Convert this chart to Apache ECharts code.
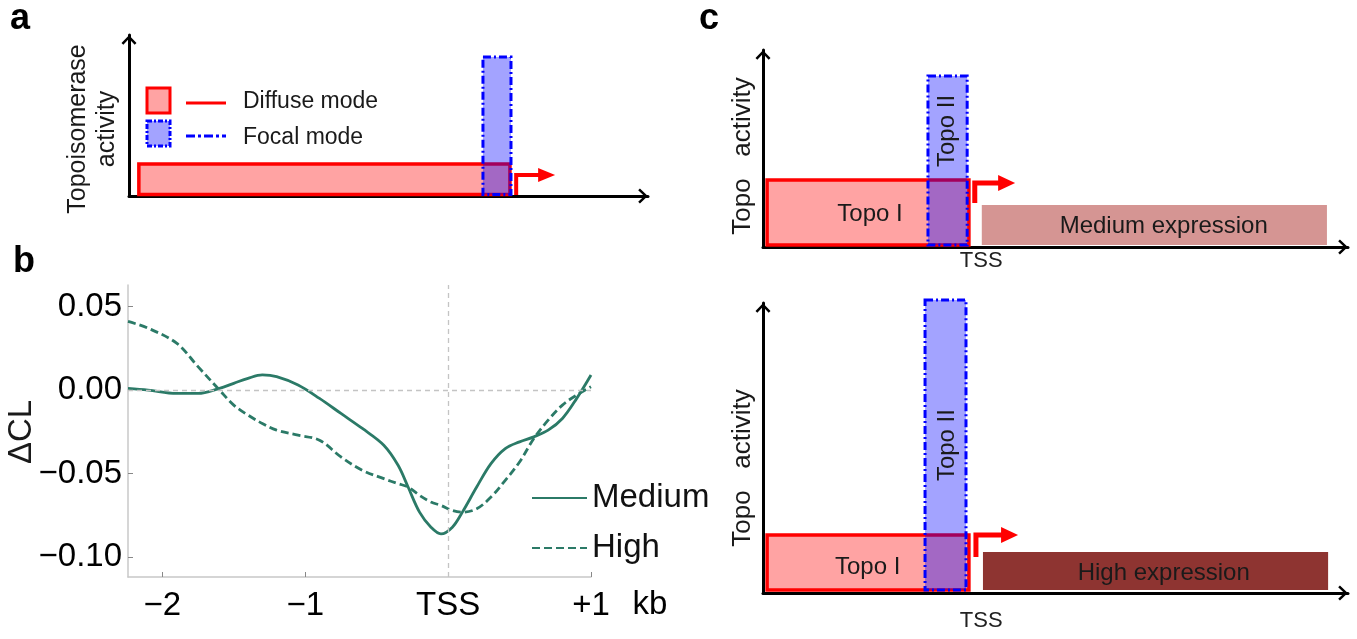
<!DOCTYPE html>
<html><head><meta charset="utf-8">
<script src="https://cdn.jsdelivr.net/npm/echarts@6/dist/echarts.min.js"></script>
<style>html,body{margin:0;padding:0;background:#fff}#c{width:1357px;height:639px}</style>
</head><body><div id="c"></div>
<script>
// ---------- Panel b: ΔCL profiles around the TSS ----------
const positionKb = [-2.24, -2.1, -1.9, -1.75, -1.6, -1.5, -1.4, -1.3, -1.2, -1.05, -0.9, -0.75, -0.6, -0.45, -0.35, -0.28, -0.2, -0.12, -0.05, 0.03, 0.1, 0.2, 0.3, 0.4, 0.5, 0.6, 0.7, 0.8, 0.9, 1.0];
const deltaCLMedium = [0.001, 0.000, -0.002, -0.002, 0.001, 0.004, 0.007, 0.009, 0.008, 0.003, -0.005, -0.014, -0.023, -0.033, -0.045, -0.058, -0.073, -0.082, -0.086, -0.082, -0.073, -0.058, -0.044, -0.035, -0.031, -0.028, -0.024, -0.017, -0.005, 0.009];
const deltaCLHigh = [0.041, 0.037, 0.028, 0.014, 0.000, -0.009, -0.015, -0.020, -0.024, -0.027, -0.030, -0.040, -0.048, -0.053, -0.056, -0.058, -0.063, -0.067, -0.069, -0.072, -0.073, -0.071, -0.064, -0.054, -0.043, -0.029, -0.018, -0.009, -0.003, 0.002];
const seriesNames = ['Medium', 'High'];
const bXTicks = [-2, -1, 0, 1];
const bYTicks = [-0.10, -0.05, 0, 0.05];

// ---------- Panel a: topoisomerase activity modes (schematic units 0-100) ----------
const modeNames = ['Diffuse mode', 'Focal mode'];
const aKinds = ['diffuse', 'focal'];
const aStart = [1.9, 68.2];
const aEnd = [73.4, 73.6];
const aHeight = [19.9, 86.3];
const aTssArrow = [74.6, 0.6, 13.0, 82.1];   // x, base, top, tip

// ---------- Panel c: Topo activity vs expression (schematic units 0-100) ----------
const cTopLabels = ['Topo I', 'Topo II', 'Medium expression'];
const cTopKinds = ['diffuse', 'focal', 'medium'];
const cTopStart = [0.7, 28.2, 37.4];
const cTopEnd = [35.2, 34.9, 96.4];
const cTopHeight = [34.0, 86.8, 21.3];
const cTopLabelX = [18.3, 31.6, 68.5];
const cTopLabelY = [16.8, 58.9, 10.7];
const cTopArrow = [36.2, 22.3, 32.5, 43.1];

const cBotLabels = ['Topo I', 'Topo II', 'High expression'];
const cBotKinds = ['diffuse', 'focal', 'high'];
const cBotStart = [0.7, 27.7, 37.6];
const cBotEnd = [35.2, 34.7, 96.6];
const cBotHeight = [20.0, 101, 14.1];
const cBotLabelX = [17.9, 31.6, 68.5];
const cBotLabelY = [9.0, 51.0, 6.9];
const cBotArrow = [36.4, 12.4, 20.0, 43.6];
const tssTickC = [37.3];
const boxBase = 1.0;

// ---------- styling ----------
const FONT = '"Liberation Sans", Arial, Helvetica, sans-serif';
const teal = '#2b7a67';
const chev = 'path://M10,0L20,10.5L17.6,12.8L10,4.8L2.4,12.8L0,10.5Z';
const boxStyles = {
  diffuse: {fill: 'rgba(255,0,0,0.36)', stroke: '#ff0000', lineWidth: 3.5},
  focal: {fill: 'rgba(0,0,255,0.36)', stroke: '#0000ff', lineWidth: 3, lineDash: [8, 3, 2, 3]},
  medium: {fill: '#d59593', stroke: null, lineWidth: 0},
  high: {fill: '#8e3431', stroke: null, lineWidth: 0}
};

function boxSeries(gi, kinds, starts, ends, heights, labels, lx, ly, fontSize) {
  const data = starts.map((s, i) => [s, ends[i], boxBase, heights[i], lx ? lx[i] : 0, ly ? ly[i] : 0]);
  return {
    type: 'custom', xAxisIndex: gi, yAxisIndex: gi, silent: true, data: data,
    renderItem: function (params, api) {
      const i = params.dataIndex;
      const p0 = api.coord([api.value(0), api.value(3)]);
      const p1 = api.coord([api.value(1), api.value(2)]);
      const kind = kinds[i];
      const children = [{type: 'rect', shape: {x: p0[0], y: p0[1], width: p1[0] - p0[0], height: p1[1] - p0[1]},
        style: Object.assign({}, boxStyles[kind])}];
      if (labels && labels[i]) {
        const lp = api.coord([api.value(4), api.value(5)]);
        children.push({type: 'text', x: lp[0], y: lp[1], rotation: kind === 'focal' ? Math.PI / 2 : 0,
          style: {text: labels[i], fill: '#1a1a1a', font: fontSize + 'px ' + FONT, align: 'center', verticalAlign: 'middle'}});
      }
      return {type: 'group', children: children};
    }
  };
}

function arrowSeries(gi, arrow, w, head, hh) {
  return {
    type: 'custom', xAxisIndex: gi, yAxisIndex: gi, silent: true, data: [arrow],
    renderItem: function (params, api) {
      const pb = api.coord([api.value(0), api.value(1)]);
      const pt = api.coord([api.value(0), api.value(2)]);
      const ptip = api.coord([api.value(3), api.value(2)]);
      return {type: 'group', children: [
        {type: 'polyline', shape: {points: [pb, pt, [ptip[0] - head + 2, pt[1]]]}, style: {stroke: '#ff0000', lineWidth: w, fill: null}},
        {type: 'polygon', shape: {points: [[ptip[0] - head, pt[1] - hh], [ptip[0], pt[1]], [ptip[0] - head, pt[1] + hh]]}, style: {fill: '#ff0000'}}
      ]};
    }
  };
}

function schemAxisLine() {
  return {show: true, onZero: false, symbol: ['none', chev], symbolSize: [15, 10], symbolOffset: [0, -5], lineStyle: {color: '#000', width: 3}};
}
function schemX(gi, tssVals, margin) {
  return {type: 'value', gridIndex: gi, min: 0, max: 100, axisLine: schemAxisLine(), axisTick: {show: false}, splitLine: {show: false},
    axisLabel: tssVals ? {show: true, customValues: tssVals, formatter: () => 'TSS', fontSize: 22, margin: margin, color: '#222', fontFamily: FONT} : {show: false}};
}
function schemY(gi) {
  return {type: 'value', gridIndex: gi, min: 0, max: 100, axisLine: schemAxisLine(), axisTick: {show: false}, axisLabel: {show: false}, splitLine: {show: false}};
}

const chart = echarts.init(document.getElementById('c'), null, {renderer: 'canvas'});
const option = {
  animation: false,
  backgroundColor: '#fff',
  textStyle: {fontFamily: FONT},
  grid: [
    {left: 129, top: 35, width: 519, height: 161},
    {left: 128, top: 285, width: 463, height: 292},
    {left: 763, top: 50, width: 585, height: 197},
    {left: 763, top: 303, width: 585, height: 290}
  ],
  xAxis: [
    schemX(0),
    {type: 'value', gridIndex: 1, min: -2.24, max: 1.0,
      axisLine: {show: true, onZero: false, lineStyle: {color: '#c8c8c8', width: 1.5}},
      axisTick: {show: true, inside: true, length: 5, customValues: bXTicks, lineStyle: {color: '#888'}},
      axisLabel: {customValues: bXTicks, fontSize: 33, color: '#000', margin: 12, fontFamily: FONT,
        formatter: v => v === 0 ? 'TSS' : (v > 0 ? '+' + v : '\u2212' + Math.abs(v))},
      splitLine: {show: false}},
    schemX(2, tssTickC, 3),
    schemX(3, tssTickC, 17)
  ],
  yAxis: [
    schemY(0),
    {type: 'value', gridIndex: 1, min: -0.1118, max: 0.0628,
      axisLine: {show: true, onZero: false, lineStyle: {color: '#c8c8c8', width: 1.5}},
      axisTick: {show: true, inside: true, length: 5, customValues: bYTicks, lineStyle: {color: '#888'}},
      axisLabel: {customValues: bYTicks, fontSize: 33, color: '#000', margin: 6, fontFamily: FONT,
        formatter: v => (v < -1e-9 ? '\u2212' : '') + Math.abs(v).toFixed(2)},
      splitLine: {show: false}},
    schemY(2),
    schemY(3)
  ],
  legend: [{
    data: seriesNames, left: 526, top: 475, orient: 'vertical', itemWidth: 55, itemHeight: 20, itemGap: 14,
    itemStyle: {opacity: 0},
    textStyle: {fontSize: 33, color: '#111', lineHeight: 36, fontFamily: FONT}
  }],
  series: [
    {name: seriesNames[0], type: 'line', xAxisIndex: 1, yAxisIndex: 1, smooth: 0.35, symbol: 'none',
      data: positionKb.map((x, i) => [x, deltaCLMedium[i]]),
      lineStyle: {color: teal, width: 2.8}, itemStyle: {color: teal}, z: 3,
      markLine: {silent: true, symbol: 'none', label: {show: false}, animation: false,
        lineStyle: {color: '#c4c4c4', type: [5, 4], width: 1.3}, data: [{xAxis: 0}, {yAxis: 0}]}},
    {name: seriesNames[1], type: 'line', xAxisIndex: 1, yAxisIndex: 1, smooth: 0.35, symbol: 'none',
      data: positionKb.map((x, i) => [x, deltaCLHigh[i]]),
      lineStyle: {color: teal, width: 2.8, type: [8, 4]}, itemStyle: {color: teal}, z: 3},
    boxSeries(0, aKinds, aStart, aEnd, aHeight, null, null, null, 23),
    arrowSeries(0, aTssArrow, 4, 17, 7),
    boxSeries(2, cTopKinds, cTopStart, cTopEnd, cTopHeight, cTopLabels, cTopLabelX, cTopLabelY, 24),
    arrowSeries(2, cTopArrow, 5, 17, 8),
    boxSeries(3, cBotKinds, cBotStart, cBotEnd, cBotHeight, cBotLabels, cBotLabelX, cBotLabelY, 24),
    arrowSeries(3, cBotArrow, 5, 17, 8)
  ],
  graphic: [
    // panel letters
    {type: 'text', x: 20, y: 19, style: {text: 'a', font: 'bold 36px ' + FONT, fill: '#000', align: 'center', verticalAlign: 'middle'}},
    {type: 'text', x: 24, y: 262, style: {text: 'b', font: 'bold 36px ' + FONT, fill: '#000', align: 'center', verticalAlign: 'middle'}},
    {type: 'text', x: 709, y: 19, style: {text: 'c', font: 'bold 36px ' + FONT, fill: '#000', align: 'center', verticalAlign: 'middle'}},
    // axis titles
    {type: 'text', x: 93, y: 129, rotation: Math.PI / 2, style: {text: 'Topoisomerase\nactivity', font: '25px ' + FONT, lineHeight: 29, fill: '#1a1a1a', align: 'center', verticalAlign: 'middle'}},
    {type: 'text', x: 22, y: 432, rotation: Math.PI / 2, style: {text: '\u0394CL', font: '33px ' + FONT, fill: '#1a1a1a', align: 'center', verticalAlign: 'middle'}},
    {type: 'text', x: 650, y: 605, style: {text: 'kb', font: '33px ' + FONT, fill: '#000', align: 'center', verticalAlign: 'middle'}},
    {type: 'text', x: 743, y: 156, rotation: Math.PI / 2, style: {text: 'Topo   activity', font: '26px ' + FONT, fill: '#1a1a1a', align: 'center', verticalAlign: 'middle'}},
    {type: 'text', x: 743, y: 468, rotation: Math.PI / 2, style: {text: 'Topo   activity', font: '26px ' + FONT, fill: '#1a1a1a', align: 'center', verticalAlign: 'middle'}},
    // panel a legend keys
    {type: 'rect', shape: {x: 147, y: 88, width: 23, height: 25}, style: {fill: 'rgba(255,0,0,0.36)', stroke: '#ff0000', lineWidth: 3}},
    {type: 'rect', shape: {x: 147, y: 121, width: 23, height: 25}, style: {fill: 'rgba(0,0,255,0.36)', stroke: '#0000ff', lineWidth: 3, lineDash: [5, 2, 2, 2]}},
    {type: 'line', shape: {x1: 186, y1: 103, x2: 226, y2: 103}, style: {stroke: '#ff0000', lineWidth: 3}},
    {type: 'line', shape: {x1: 186, y1: 136, x2: 226, y2: 136}, style: {stroke: '#0000ff', lineWidth: 3, lineDash: [9, 3, 3, 3]}},
    {type: 'text', x: 243, y: 102, style: {text: modeNames[0], font: '23px ' + FONT, fill: '#1a1a1a', align: 'left', verticalAlign: 'middle'}},
    {type: 'text', x: 243, y: 138, style: {text: modeNames[1], font: '23px ' + FONT, fill: '#1a1a1a', align: 'left', verticalAlign: 'middle'}}
  ]
};
chart.setOption(option);
</script>
</body></html>
